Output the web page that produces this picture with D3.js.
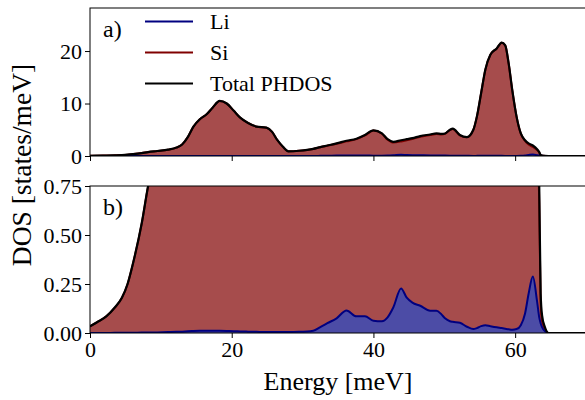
<!DOCTYPE html>
<html>
<head>
<meta charset="utf-8">
<script src="https://cdn.jsdelivr.net/npm/d3@7"></script>
<style>
  body { margin: 0; background: #fff; }
  svg text { font-family: "Liberation Serif", "Times New Roman", serif !important; fill: #000; }
</style>
</head>
<body>
<div id="chart"></div>
<script>
// Energy grid (meV) and the three DOS curves
var energy = [0, 1, 2.3, 3.5, 4.5, 5.3, 6.1, 7.3, 8.2, 9.5, 11, 12.2, 13, 13.8, 14.6, 15.5, 16.5, 17.3, 18.3, 19.3,
  20.3, 21.2, 22.3, 23.5, 24.9, 25.7, 26.4, 27.2, 28, 29.5, 31.5, 32.5, 33.5, 34.8, 36.2, 37.6, 38.8, 40, 41.2, 42,
  42.8, 43.9, 44.7, 45.5, 46.6, 48, 48.9, 49.6, 50.1, 50.8, 51.2, 52.2, 53.2, 54.1, 54.6, 55.2, 55.8, 56.5, 57.4, 58.1,
  58.6, 59.1, 59.6, 60.2, 60.8, 61.4, 61.9, 62.5, 63.1, 63.4, 63.6, 63.8, 64.2, 64.7, 66, 70];

var totalDos = [0.034, 0.055, 0.085, 0.13, 0.18, 0.25, 0.36, 0.56, 0.75, 0.95, 1.2, 1.6, 2.2, 3.6, 5.6, 7.0, 8.0, 9.2, 10.5, 10.0,
  8.6, 7.3, 6.3, 5.6, 5.4, 4.6, 3.1, 1.8, 0.9, 1.0, 1.35, 1.7, 2.0, 2.4, 2.9, 3.3, 4.0, 4.9, 4.3, 3.2,
  2.7, 3.0, 3.2, 3.4, 3.8, 4.1, 4.3, 4.2, 4.3, 5.0, 5.2, 4.0, 3.6, 5.0, 7.5, 12.0, 16.5, 19.3, 20.5, 21.6,
  21.1, 17.5, 12.5, 7.5, 4.3, 3.0, 2.4, 2.0, 1.3, 0.75, 0.2, 0.09, 0.03, 0, 0, 0];

var liDos = [0, 0, 0, 0.001, 0.001, 0.001, 0.001, 0.002, 0.002, 0.003, 0.005, 0.006, 0.007, 0.009, 0.01, 0.011, 0.012, 0.012, 0.011, 0.01,
  0.009, 0.008, 0.007, 0.006, 0.005, 0.005, 0.005, 0.005, 0.005, 0.006, 0.012, 0.03, 0.05, 0.075, 0.115, 0.085, 0.085, 0.063, 0.06, 0.08,
  0.13, 0.227, 0.18, 0.155, 0.139, 0.114, 0.114, 0.095, 0.075, 0.06, 0.057, 0.052, 0.032, 0.02, 0.025, 0.035, 0.04, 0.035, 0.029, 0.025,
  0.022, 0.019, 0.017, 0.02, 0.04, 0.1, 0.2, 0.288, 0.16, 0.08, 0.05, 0.03, 0.01, 0, 0, 0];

var siDos = [0.034, 0.055, 0.085, 0.129, 0.179, 0.249, 0.359, 0.558, 0.748, 0.947, 1.195, 1.594, 2.193, 3.59, 5.59, 6.99, 7.99, 9.19, 10.49, 9.99,
  8.59, 7.29, 6.29, 5.59, 5.39, 4.59, 3.09, 1.79, 0.895, 0.994, 1.338, 1.67, 1.95, 2.325, 2.785, 3.215, 3.915, 4.837, 4.24, 3.12,
  2.57, 2.773, 3.02, 3.245, 3.661, 3.986, 4.186, 4.105, 4.225, 4.94, 5.143, 3.948, 3.568, 4.98, 7.475, 11.965, 16.46, 19.265, 20.471, 21.575,
  21.078, 17.481, 12.483, 7.48, 4.26, 2.9, 2.2, 1.712, 1.14, 0.67, 0.15, 0.06, 0.02, 0, 0, 0];

var xTicks = [0, 20, 40, 60];
var topTicks = [0, 10, 20];
var bottomTicks = [0, 0.25, 0.5, 0.75];
var legendNames = ["Li", "Si", "Total PHDOS"];

var W = 585, H = 400;
var left = 90, right = 586;
var svg = d3.select("#chart").append("svg").attr("width", W).attr("height", H);

var x = d3.scaleLinear().domain([0, 70]).range([left, right]);

var panels = [
  {name: "a)", top: 8, bottom: 156, domain: [0, 28.2], ticks: topTicks, fmt: d3.format("d"), labels: false},
  {name: "b)", top: 186, bottom: 333, domain: [0, 0.75], ticks: bottomTicks, fmt: d3.format(".2f"), labels: true}
];

var liColor = "#000080", siColor = "#800000";

panels.forEach(function(p, i) {
  var y = d3.scaleLinear().domain(p.domain).range([p.bottom, p.top]);

  var clipId = "clip" + i;
  svg.append("clipPath").attr("id", clipId)
    .append("rect").attr("x", left).attr("y", p.top).attr("width", right - left).attr("height", p.bottom - p.top);

  var g = svg.append("g").attr("clip-path", "url(#" + clipId + ")");

  var area = function(vals) {
    return d3.area().curve(d3.curveMonotoneX)
      .x(function(d, j) { return x(energy[j]); })
      .y0(y(0))
      .y1(function(d) { return y(d); })(vals);
  };
  var line = function(vals) {
    return d3.line().curve(d3.curveMonotoneX)
      .x(function(d, j) { return x(energy[j]); })
      .y(function(d) { return y(d); })(vals);
  };

  // Si
  g.append("path").attr("d", area(siDos)).attr("fill", siColor).attr("fill-opacity", 0.7);
  g.append("path").attr("d", line(siDos)).attr("fill", "none").attr("stroke", siColor).attr("stroke-width", 2);
  // Li (drawn opaque with the blended colour)
  g.append("path").attr("d", area(liDos)).attr("fill", "#4c4ca6");
  g.append("path").attr("d", line(liDos)).attr("fill", "none").attr("stroke", liColor).attr("stroke-width", 2);
  // total
  g.append("path").attr("d", line(totalDos)).attr("fill", "none").attr("stroke", "#000").attr("stroke-width", 2.2);

  // frame
  svg.append("rect").attr("x", left).attr("y", p.top).attr("width", right - left).attr("height", p.bottom - p.top)
    .attr("fill", "none").attr("stroke", "#000").attr("stroke-width", 1);

  // y axis
  var ya = svg.append("g").attr("transform", "translate(" + left + ",0)")
    .call(d3.axisLeft(y).tickValues(p.ticks).tickFormat(p.fmt).tickSize(5).tickPadding(3));
  ya.attr("font-family", null);
  ya.select(".domain").remove();
  ya.selectAll("text").style("font-size", "22px");

  // x axis
  var xa = svg.append("g").attr("transform", "translate(0," + p.bottom + ")")
    .call(d3.axisBottom(x).tickValues(xTicks).tickSize(5).tickPadding(3).tickFormat(p.labels ? d3.format("d") : ""));
  xa.attr("font-family", null);
  xa.select(".domain").remove();
  xa.selectAll("text").style("font-size", "22px");

  svg.append("text").attr("x", 103).attr("y", p.top + 29).style("font-size", "24px").text(p.name);
});

// legend
var legendColors = [liColor, siColor, "#000"];
legendNames.forEach(function(n, i) {
  var ly = 21.5 + i * 31;
  svg.append("line").attr("x1", 145).attr("x2", 193).attr("y1", ly).attr("y2", ly)
    .attr("stroke", legendColors[i]).attr("stroke-width", 2.2);
  svg.append("text").attr("x", 210).attr("y", ly + 7).style("font-size", "22px").text(n);
});

// axis labels
svg.append("text").attr("x", 338).attr("y", 390).attr("text-anchor", "middle")
  .style("font-size", "26px").text("Energy [meV]");
svg.append("text").attr("transform", "translate(31,165) rotate(-90)").attr("text-anchor", "middle")
  .style("font-size", "27.5px").text("DOS [states/meV]");
</script>
</body>
</html>
